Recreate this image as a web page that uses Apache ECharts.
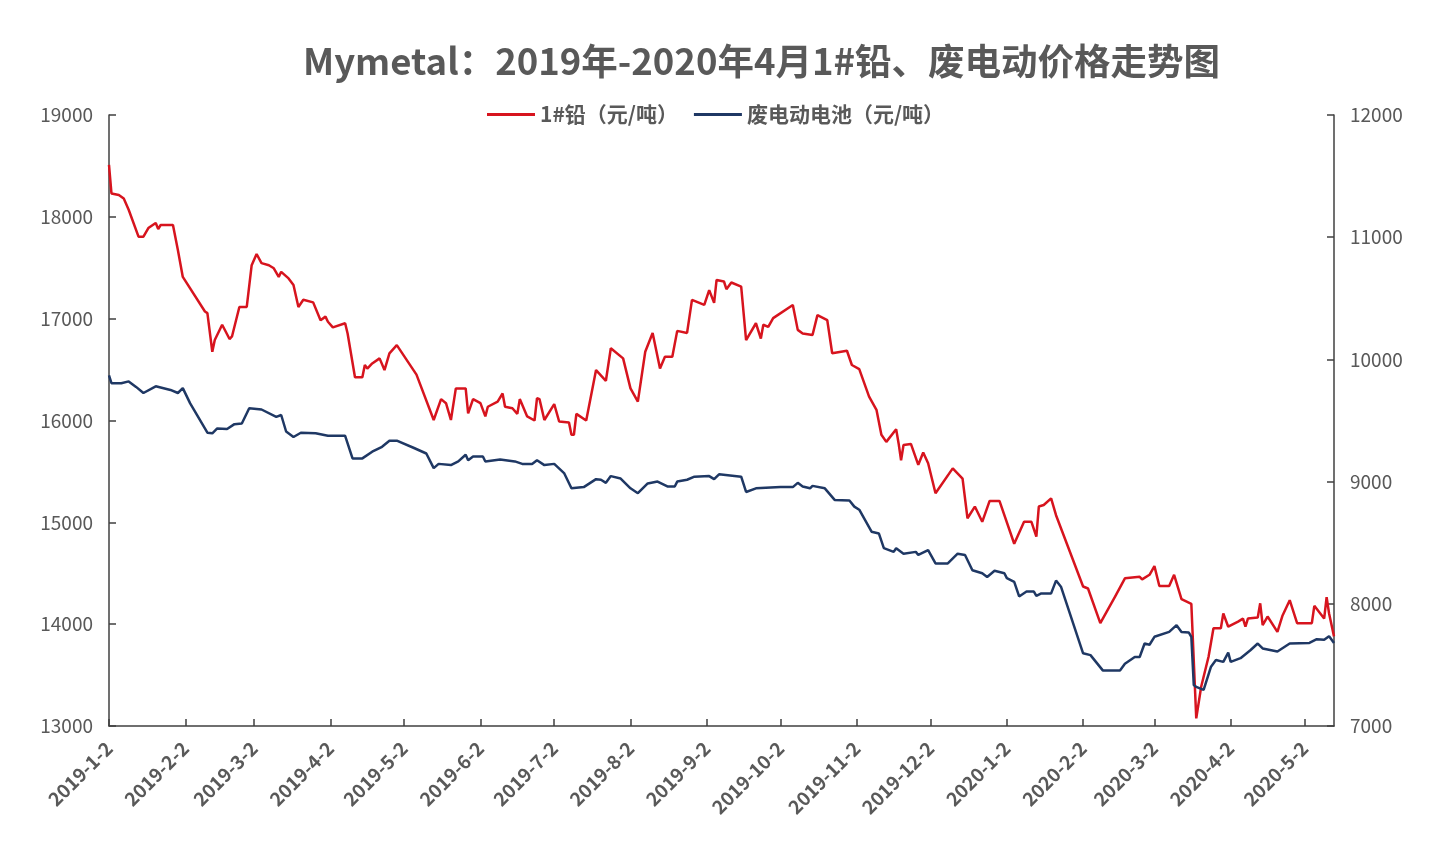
<!DOCTYPE html>
<html>
<head>
<meta charset="utf-8">
<title>Mymetal 1#铅、废电动价格走势图</title>
<script src="https://cdn.jsdelivr.net/npm/echarts@6/dist/echarts.min.js"></script>
<style>
  html, body { margin: 0; padding: 0; background: #fff; }
  #chart { width: 1434px; height: 843px; }
</style>
</head>
<body>
<div id="chart"></div>
<script>
// 横轴日期范围（逐日类目）
const startDate = '2019-01-02'
const endDate = '2020-05-14'

// 1#铅（元/吨），左轴
const leadDates = [
  '2019-01-02', '2019-01-03', '2019-01-06', '2019-01-08', '2019-01-10', '2019-01-14', '2019-01-16', '2019-01-18',
  '2019-01-21', '2019-01-22', '2019-01-23', '2019-01-28', '2019-01-30', '2019-02-01', '2019-02-10', '2019-02-11',
  '2019-02-13', '2019-02-14', '2019-02-17', '2019-02-20', '2019-02-21', '2019-02-24', '2019-02-27', '2019-03-01',
  '2019-03-03', '2019-03-05', '2019-03-08', '2019-03-10', '2019-03-12', '2019-03-13', '2019-03-16', '2019-03-18',
  '2019-03-20', '2019-03-22', '2019-03-26', '2019-03-29', '2019-03-31', '2019-04-01', '2019-04-03', '2019-04-08',
  '2019-04-09', '2019-04-12', '2019-04-15', '2019-04-16', '2019-04-17', '2019-04-19', '2019-04-22', '2019-04-24',
  '2019-04-26', '2019-04-29', '2019-05-07', '2019-05-14', '2019-05-17', '2019-05-19', '2019-05-21', '2019-05-23',
  '2019-05-27', '2019-05-28', '2019-05-30', '2019-06-02', '2019-06-04', '2019-06-05', '2019-06-09', '2019-06-11',
  '2019-06-12', '2019-06-15', '2019-06-17', '2019-06-18', '2019-06-21', '2019-06-24', '2019-06-25', '2019-06-26',
  '2019-06-28', '2019-07-02', '2019-07-04', '2019-07-08', '2019-07-09', '2019-07-10', '2019-07-11', '2019-07-15',
  '2019-07-19', '2019-07-23', '2019-07-25', '2019-07-30', '2019-08-02', '2019-08-05', '2019-08-08', '2019-08-11',
  '2019-08-14', '2019-08-16', '2019-08-19', '2019-08-21', '2019-08-25', '2019-08-27', '2019-09-01', '2019-09-03',
  '2019-09-05', '2019-09-06', '2019-09-09', '2019-09-10', '2019-09-12', '2019-09-16', '2019-09-18', '2019-09-22',
  '2019-09-24', '2019-09-25', '2019-09-27', '2019-09-29', '2019-10-07', '2019-10-09', '2019-10-11', '2019-10-15',
  '2019-10-17', '2019-10-21', '2019-10-23', '2019-10-29', '2019-10-31', '2019-11-03', '2019-11-07', '2019-11-10',
  '2019-11-12', '2019-11-14', '2019-11-18', '2019-11-19', '2019-11-20', '2019-11-21', '2019-11-24', '2019-11-27',
  '2019-11-29', '2019-12-01', '2019-12-04', '2019-12-11', '2019-12-15', '2019-12-17', '2019-12-20', '2019-12-23',
  '2019-12-26', '2019-12-30', '2020-01-05', '2020-01-09', '2020-01-12', '2020-01-14', '2020-01-15', '2020-01-17',
  '2020-01-20', '2020-01-22', '2020-02-02', '2020-02-04', '2020-02-09', '2020-02-12', '2020-02-15', '2020-02-19',
  '2020-02-25', '2020-02-26', '2020-02-29', '2020-03-02', '2020-03-04', '2020-03-08', '2020-03-10', '2020-03-13',
  '2020-03-17', '2020-03-19', '2020-03-21', '2020-03-24', '2020-03-26', '2020-03-29', '2020-03-30', '2020-04-01',
  '2020-04-05', '2020-04-07', '2020-04-08', '2020-04-09', '2020-04-13', '2020-04-14', '2020-04-15', '2020-04-17',
  '2020-04-21', '2020-04-23', '2020-04-26', '2020-04-29', '2020-05-05', '2020-05-06', '2020-05-10', '2020-05-11',
  '2020-05-12', '2020-05-14'
]
const leadPrices = [
  18510, 18230, 18215, 18180, 18070, 17805, 17805, 17890,
  17940, 17880, 17920, 17920, 17675, 17410, 17070, 17055,
  16675, 16790, 16940, 16800, 16825, 17115, 17115, 17525,
  17635, 17545, 17525, 17495, 17410, 17460, 17395, 17330,
  17115, 17185, 17160, 16985, 17020, 16970, 16915, 16955,
  16855, 16425, 16425, 16545, 16510, 16560, 16610, 16495,
  16660, 16740, 16450, 16005, 16210, 16170, 16005, 16315,
  16315, 16070, 16210, 16170, 16040, 16135, 16185, 16265,
  16135, 16120, 16065, 16210, 16040, 16000, 16220, 16210,
  16005, 16160, 15990, 15980, 15860, 15860, 16065, 16000,
  16495, 16390, 16710, 16610, 16315, 16185, 16675, 16860,
  16510, 16625, 16625, 16880, 16860, 17185, 17135, 17280,
  17155, 17380, 17365, 17290, 17355, 17315, 16790, 16955,
  16805, 16940, 16920, 17005, 17135, 16890, 16855, 16840,
  17035, 16985, 16660, 16685, 16545, 16505, 16235, 16105,
  15860, 15790, 15915, 15775, 15610, 15760, 15770, 15565,
  15685, 15580, 15285, 15530, 15430, 15040, 15155, 15005,
  15210, 15210, 14790, 15005, 15005, 14860, 15155, 15170,
  15235, 15070, 14370, 14350, 14010, 14140, 14270, 14450,
  14465, 14440, 14485, 14570, 14375, 14375, 14485, 14245,
  14200, 13075, 13385, 13680, 13960, 13960, 14105, 13975,
  14025, 14055, 13975, 14055, 14065, 14205, 13990, 14075,
  13925, 14080, 14235, 14010, 14010, 14180, 14055, 14265,
  14105, 13880
]

// 废电动电池（元/吨），右轴
const batteryDates = [
  '2019-01-02', '2019-01-03', '2019-01-07', '2019-01-10', '2019-01-13', '2019-01-16', '2019-01-21', '2019-01-27',
  '2019-01-30', '2019-02-01', '2019-02-04', '2019-02-11', '2019-02-13', '2019-02-15', '2019-02-19', '2019-02-22',
  '2019-02-25', '2019-02-28', '2019-03-05', '2019-03-11', '2019-03-13', '2019-03-15', '2019-03-18', '2019-03-21',
  '2019-03-27', '2019-04-01', '2019-04-08', '2019-04-11', '2019-04-15', '2019-04-19', '2019-04-23', '2019-04-26',
  '2019-04-29', '2019-05-06', '2019-05-11', '2019-05-14', '2019-05-16', '2019-05-21', '2019-05-24', '2019-05-27',
  '2019-05-28', '2019-05-30', '2019-06-03', '2019-06-04', '2019-06-10', '2019-06-16', '2019-06-19', '2019-06-23',
  '2019-06-25', '2019-06-28', '2019-07-02', '2019-07-06', '2019-07-09', '2019-07-14', '2019-07-19', '2019-07-21',
  '2019-07-23', '2019-07-25', '2019-07-29', '2019-08-02', '2019-08-05', '2019-08-09', '2019-08-13', '2019-08-17',
  '2019-08-20', '2019-08-21', '2019-08-25', '2019-08-28', '2019-09-03', '2019-09-05', '2019-09-07', '2019-09-16',
  '2019-09-18', '2019-09-22', '2019-10-02', '2019-10-07', '2019-10-09', '2019-10-11', '2019-10-14', '2019-10-15',
  '2019-10-20', '2019-10-24', '2019-10-30', '2019-11-01', '2019-11-03', '2019-11-08', '2019-11-11', '2019-11-13',
  '2019-11-17', '2019-11-18', '2019-11-21', '2019-11-26', '2019-11-27', '2019-12-01', '2019-12-04', '2019-12-09',
  '2019-12-13', '2019-12-16', '2019-12-19', '2019-12-23', '2019-12-25', '2019-12-28', '2020-01-01', '2020-01-02',
  '2020-01-05', '2020-01-07', '2020-01-10', '2020-01-13', '2020-01-14', '2020-01-16', '2020-01-20', '2020-01-22',
  '2020-01-24', '2020-02-02', '2020-02-05', '2020-02-10', '2020-02-17', '2020-02-19', '2020-02-23', '2020-02-25',
  '2020-02-27', '2020-02-29', '2020-03-02', '2020-03-08', '2020-03-11', '2020-03-13', '2020-03-16', '2020-03-17',
  '2020-03-18', '2020-03-19', '2020-03-22', '2020-03-25', '2020-03-27', '2020-03-30', '2020-04-01', '2020-04-02',
  '2020-04-06', '2020-04-10', '2020-04-13', '2020-04-15', '2020-04-21', '2020-04-26', '2020-05-04', '2020-05-07',
  '2020-05-10', '2020-05-12', '2020-05-14'
]
const batteryPrices = [
  9870, 9805, 9805, 9820, 9775, 9725, 9780, 9750,
  9725, 9765, 9640, 9400, 9395, 9435, 9430, 9470,
  9475, 9600, 9590, 9530, 9545, 9410, 9365, 9400,
  9395, 9375, 9375, 9190, 9190, 9245, 9285, 9335,
  9335, 9275, 9230, 9110, 9145, 9135, 9165, 9220,
  9175, 9205, 9205, 9165, 9180, 9165, 9145, 9145,
  9175, 9135, 9145, 9070, 8945, 8955, 9020, 9015,
  8990, 9045, 9025, 8945, 8905, 8985, 9000, 8960,
  8960, 9000, 9015, 9040, 9045, 9020, 9060, 9040,
  8915, 8945, 8955, 8955, 8990, 8960, 8945, 8965,
  8945, 8850, 8845, 8795, 8770, 8590, 8575, 8455,
  8425, 8455, 8410, 8425, 8400, 8440, 8330, 8330,
  8410, 8400, 8275, 8250, 8220, 8270, 8250, 8210,
  8180, 8060, 8100, 8100, 8065, 8085, 8085, 8190,
  8140, 7595, 7580, 7455, 7455, 7510, 7565, 7565,
  7675, 7665, 7730, 7770, 7825, 7770, 7765, 7730,
  7335, 7320, 7295, 7485, 7540, 7525, 7600, 7525,
  7555, 7620, 7675, 7635, 7610, 7675, 7680, 7710,
  7705, 7735, 7680
]

// 坐标轴刻度
const leftAxisRange = { min: 13000, max: 19000, interval: 1000 }
const rightAxisRange = { min: 7000, max: 12000, interval: 1000 }

const legendNames = ['1#铅（元/吨）', '废电动电池（元/吨）']

// 逐日类目
const days = []
const dayMs = 86400000
for (let t = Date.parse(startDate + 'T00:00:00Z'); t <= Date.parse(endDate + 'T00:00:00Z'); t += dayMs) {
  days.push(new Date(t).toISOString().slice(0, 10))
}
const dayIndex = {}
days.forEach((d, i) => { dayIndex[d] = i })

const toPairs = (dates, values) => dates.map((d, i) => [dayIndex[d], values[i]])
const isMonthTick = (i, v) => v.slice(8) === '02'
const fmtDate = v => {
  const p = v.split('-')
  return p[0] + '-' + (+p[1]) + '-' + (+p[2])
}

const textColor = '#595959'
const axisColor = '#404040'
const font = '"Noto Sans CJK SC", "Noto Sans", sans-serif'

const valueAxis = (range, pos) => ({
  type: 'value',
  position: pos,
  min: range.min,
  max: range.max,
  interval: range.interval,
  axisLine: { show: true, lineStyle: { color: axisColor, width: 1.5 } },
  axisTick: { show: true, inside: true, length: 7, lineStyle: { color: axisColor, width: 1.5 } },
  axisLabel: { margin: 16, fontFamily: font, fontSize: 19, color: textColor, formatter: v => String(v) },
  splitLine: { show: false }
})

const myChart = echarts.init(document.getElementById('chart'))
const options = {
  backgroundColor: '#fff',
  animation: false,
  title: {
    text: 'Mymetal：2019年-2020年4月1#铅、废电动价格走势图',
    left: 298,
    top: 38,
    textStyle: { fontFamily: font, fontSize: 36.5, fontWeight: 'bold', color: textColor }
  },
  legend: {
    data: legendNames,
    top: 99,
    left: 482,
    icon: 'rect',
    itemWidth: 48,
    itemHeight: 3,
    itemGap: 16,
    textStyle: { fontFamily: font, fontSize: 21, fontWeight: 'bold', color: textColor }
  },
  grid: {
    left: 109,
    right: 100,
    top: 115,
    bottom: 117,
    containLabel: false
  },
  xAxis: {
    type: 'category',
    data: days,
    boundaryGap: false,
    axisLine: { lineStyle: { color: axisColor, width: 1.5 } },
    axisTick: { inside: true, length: 7, interval: isMonthTick, lineStyle: { color: axisColor, width: 1.5 } },
    axisLabel: {
      interval: isMonthTick,
      rotate: 45,
      margin: 19,
      formatter: fmtDate,
      fontFamily: font,
      fontSize: 19,
      fontWeight: 'bold',
      color: textColor
    },
    splitLine: { show: false }
  },
  yAxis: [
    valueAxis(leftAxisRange, 'left'),
    valueAxis(rightAxisRange, 'right')
  ],
  series: [
    {
      name: legendNames[0],
      type: 'line',
      yAxisIndex: 0,
      symbol: 'none',
      color: '#D7141E',
      lineStyle: { width: 2.5, color: '#D7141E' },
      data: toPairs(leadDates, leadPrices)
    },
    {
      name: legendNames[1],
      type: 'line',
      yAxisIndex: 1,
      symbol: 'none',
      color: '#1F3864',
      lineStyle: { width: 2.5, color: '#1F3864' },
      data: toPairs(batteryDates, batteryPrices)
    }
  ]
}
myChart.setOption(options)
</script>
</body>
</html>
